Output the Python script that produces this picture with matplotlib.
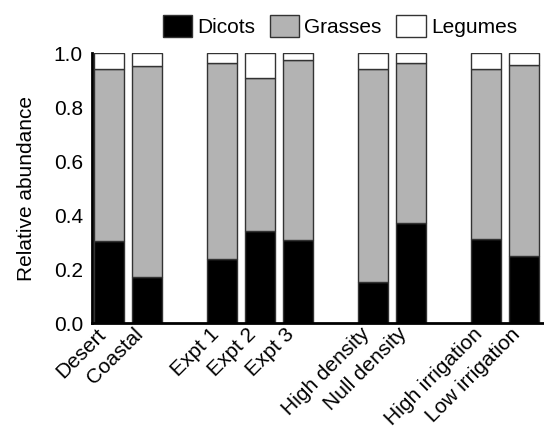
import matplotlib
matplotlib.use('Agg')
import matplotlib.pyplot as plt
import matplotlib.transforms as mtransforms
from matplotlib.patches import Patch

plt.rcParams['font.family'] = ['Liberation Sans', 'DejaVu Sans']

sites = ['Desert', 'Coastal', 'Expt 1', 'Expt 2', 'Expt 3',
         'High density', 'Null density', 'High irrigation', 'Low irrigation']
# groups of bars are separated by one empty slot
positions = [0, 1, 3, 4, 5, 7, 8, 10, 11]
dicots = [0.305, 0.170, 0.236, 0.340, 0.307, 0.151, 0.370, 0.311, 0.248]
grasses_top = [0.942, 0.954, 0.965, 0.909, 0.974, 0.943, 0.965, 0.941, 0.958]
grasses = [g - d for g, d in zip(grasses_top, dicots)]
legumes = [1.0 - g for g in grasses_top]

edge = '#333333'
fig = plt.figure(figsize=(5.44, 4.29), dpi=100)
ax = fig.add_axes([0.169, 0.247, 0.829, 0.629])

ax.bar(positions, dicots, 0.8, color='black', edgecolor=edge, linewidth=1)
ax.bar(positions, grasses, 0.8, bottom=dicots, color='#b3b3b3',
       edgecolor=edge, linewidth=1)
ax.bar(positions, legumes, 0.8, bottom=grasses_top, color='white',
       edgecolor=edge, linewidth=1)

ax.set_xlim(-0.46, 11.5)
ax.set_ylim(0, 1.0)
ax.set_yticks([0, 0.2, 0.4, 0.6, 0.8, 1.0])
ax.set_yticklabels(['0.0', '0.2', '0.4', '0.6', '0.8', '1.0'], fontsize=15)
ax.set_xticks(positions)
ax.set_xticklabels(sites, rotation=45, ha='right', fontsize=15)
offset = mtransforms.ScaledTranslation(17 / 100, 0, fig.dpi_scale_trans)
for lbl in ax.get_xticklabels():
    lbl.set_transform(lbl.get_transform() + offset)
ax.tick_params(length=0)
ax.tick_params(axis='y', pad=6.5)
ax.tick_params(axis='x', pad=1)
ax.set_ylabel('Relative abundance', fontsize=15, labelpad=13)

for side in ['top', 'right']:
    ax.spines[side].set_visible(False)
for side in ['left', 'bottom']:
    ax.spines[side].set_linewidth(2)

handles = [Patch(facecolor='black', edgecolor=edge),
           Patch(facecolor='#b3b3b3', edgecolor=edge),
           Patch(facecolor='white', edgecolor=edge)]
fig.legend(handles, ['Dicots', 'Grasses', 'Legumes'], ncol=3, frameon=False,
           loc='center', bbox_to_anchor=(340 / 544, 1 - 26 / 429),
           fontsize=15, handlelength=1.4, handleheight=1.3,
           handletextpad=0.25, columnspacing=0.7, borderaxespad=0,
           borderpad=0)

fig.savefig('out.png', dpi=100)
